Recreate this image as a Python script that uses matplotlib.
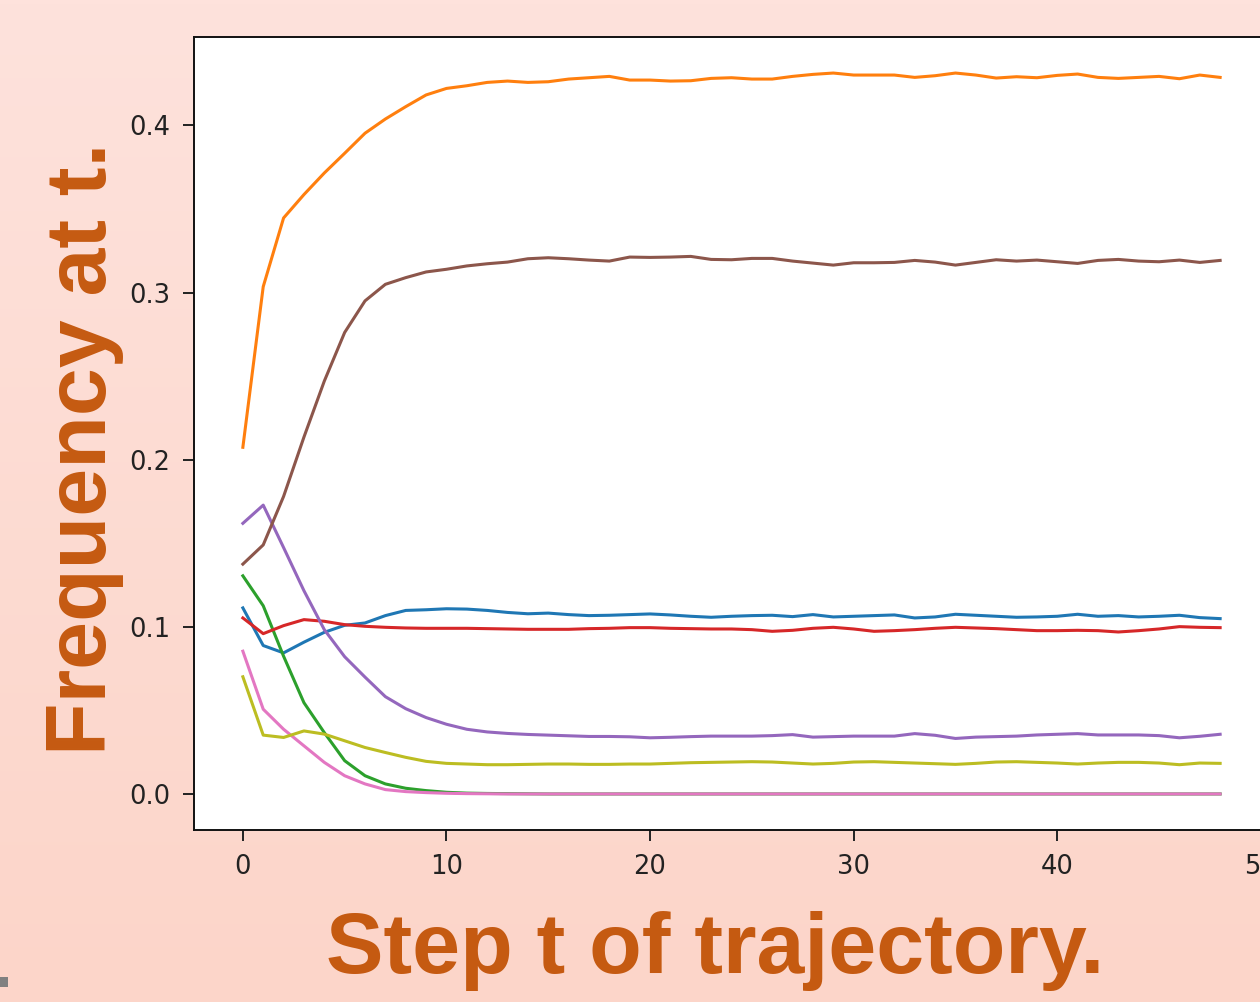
import numpy as np
import matplotlib
matplotlib.use("Agg")
import matplotlib.pyplot as plt
from matplotlib.patches import Rectangle

steps = list(range(49))

blue = [0.1113, 0.0888, 0.0844, 0.0908, 0.0967, 0.1009, 0.1023, 0.1067, 0.1098, 0.1102,
        0.1108, 0.1106, 0.1098, 0.1086, 0.1078, 0.1082, 0.1073, 0.1067, 0.1069, 0.1073,
        0.1077, 0.1071, 0.1063, 0.1057, 0.1063, 0.1067, 0.1069, 0.1061, 0.1073, 0.1059,
        0.1063, 0.1067, 0.1071, 0.1053, 0.1059, 0.1075, 0.1069, 0.1063, 0.1057, 0.1059,
        0.1063, 0.1075, 0.1063, 0.1067, 0.1059, 0.1063, 0.1069, 0.1055, 0.1049]
orange = [0.2074, 0.3035, 0.3446, 0.3586, 0.3715, 0.3833, 0.3953, 0.4038, 0.4112, 0.4182,
          0.4221, 0.4237, 0.4257, 0.4265, 0.4257, 0.4261, 0.4277, 0.4285, 0.4293, 0.4271,
          0.4271, 0.4265, 0.4267, 0.4281, 0.4285, 0.4277, 0.4277, 0.4293, 0.4305, 0.4313,
          0.4301, 0.4301, 0.4301, 0.4287, 0.4297, 0.4313, 0.4301, 0.4283, 0.4291, 0.4285,
          0.4299, 0.4307, 0.4287, 0.4281, 0.4287, 0.4293, 0.4279, 0.4301, 0.4287]
green = [0.1305, 0.1126, 0.0824, 0.0546, 0.0367, 0.0199, 0.0109, 0.0060, 0.0034, 0.0020,
         0.0010, 0.0005, 0.0003, 0.0002, 0.0001, 0.0, 0.0, 0.0, 0.0, 0.0,
         0.0, 0.0, 0.0, 0.0, 0.0, 0.0, 0.0, 0.0, 0.0, 0.0,
         0.0, 0.0, 0.0, 0.0, 0.0, 0.0, 0.0, 0.0, 0.0, 0.0,
         0.0, 0.0, 0.0, 0.0, 0.0, 0.0, 0.0, 0.0, 0.0]
red = [0.1053, 0.0959, 0.1007, 0.1043, 0.1033, 0.1013, 0.1003, 0.0997, 0.0993, 0.0991,
       0.0991, 0.0991, 0.0989, 0.0987, 0.0985, 0.0985, 0.0985, 0.0989, 0.0991, 0.0995,
       0.0995, 0.0991, 0.0989, 0.0987, 0.0987, 0.0983, 0.0973, 0.0979, 0.0991, 0.0997,
       0.0987, 0.0973, 0.0977, 0.0983, 0.0991, 0.0997, 0.0993, 0.0989, 0.0983, 0.0977,
       0.0977, 0.0979, 0.0977, 0.0969, 0.0977, 0.0987, 0.1001, 0.0997, 0.0995]
purple = [0.1619, 0.1728, 0.1474, 0.1216, 0.0983, 0.0821, 0.0699, 0.0582, 0.0510, 0.0457,
          0.0417, 0.0387, 0.0371, 0.0362, 0.0356, 0.0352, 0.0348, 0.0344, 0.0344, 0.0342,
          0.0336, 0.0339, 0.0343, 0.0346, 0.0346, 0.0346, 0.0349, 0.0355, 0.0340, 0.0343,
          0.0346, 0.0346, 0.0346, 0.0361, 0.0351, 0.0332, 0.0340, 0.0343, 0.0346, 0.0353,
          0.0357, 0.0361, 0.0353, 0.0353, 0.0353, 0.0349, 0.0336, 0.0345, 0.0357]
brown = [0.1375, 0.1490, 0.1780, 0.2135, 0.2470, 0.2761, 0.2950, 0.3049, 0.3089, 0.3123,
         0.3139, 0.3159, 0.3172, 0.3182, 0.3202, 0.3208, 0.3202, 0.3194, 0.3188, 0.3212,
         0.3210, 0.3212, 0.3216, 0.3198, 0.3196, 0.3204, 0.3204, 0.3188, 0.3176, 0.3164,
         0.3178, 0.3178, 0.3180, 0.3192, 0.3182, 0.3164, 0.3180, 0.3196, 0.3188, 0.3194,
         0.3184, 0.3174, 0.3192, 0.3198, 0.3188, 0.3184, 0.3194, 0.3180, 0.3192]
pink = [0.0854, 0.0507, 0.0387, 0.0288, 0.0189, 0.0109, 0.0060, 0.0026, 0.0014, 0.0008,
        0.0004, 0.0002, 0.0001, 0.0, 0.0, 0.0, 0.0, 0.0, 0.0, 0.0,
        0.0, 0.0, 0.0, 0.0, 0.0, 0.0, 0.0, 0.0, 0.0, 0.0,
        0.0, 0.0, 0.0, 0.0, 0.0, 0.0, 0.0, 0.0, 0.0, 0.0,
        0.0, 0.0, 0.0, 0.0, 0.0, 0.0, 0.0, 0.0, 0.0]
olive = [0.0701, 0.0352, 0.0338, 0.0377, 0.0358, 0.0318, 0.0278, 0.0248, 0.0219, 0.0195,
         0.0183, 0.0179, 0.0175, 0.0175, 0.0177, 0.0179, 0.0179, 0.0177, 0.0177, 0.0179,
         0.0179, 0.0183, 0.0187, 0.0189, 0.0191, 0.0193, 0.0191, 0.0185, 0.0179, 0.0183,
         0.0191, 0.0193, 0.0189, 0.0185, 0.0181, 0.0177, 0.0183, 0.0191, 0.0193, 0.0189,
         0.0185, 0.0179, 0.0185, 0.0189, 0.0189, 0.0185, 0.0175, 0.0185, 0.0183]

series = [blue, orange, green, red, purple, brown, pink, olive]
colors = ["#1f77b4", "#ff7f0e", "#2ca02c", "#d62728", "#9467bd", "#8c564b", "#e377c2", "#bcbd22"]

xlabel = "Step t of trajectory."
ylabel = "Frequency at t."
xticks = [0, 10, 20, 30, 40, 50]
yticks = [0.0, 0.1, 0.2, 0.3, 0.4]

W, H = 1260, 1002
fig = plt.figure(figsize=(W / 100, H / 100), dpi=100)

# background gradient
bg = fig.add_axes([0, 0, 1, 1], zorder=-10)
top = np.array([254, 226, 220]) / 255.0
bot = np.array([252, 213, 201]) / 255.0
tt = np.linspace(0, 1, 256)[:, None]
grad = top[None, :] * (1 - tt) + bot[None, :] * tt
bg.imshow(grad[:, None, :], aspect="auto", extent=[0, 1, 0, 1])
bg.set_axis_off()

left = 194 / W
right = 1269 / W
bottom = 1 - 830 / H
topy = 1 - 37 / H
ax = fig.add_axes([left, bottom, right - left, topy - bottom])
ax.set_facecolor("white")

for s, c in zip(series, colors):
    ax.plot(steps, s, color=c, lw=2.2)

ax.set_xticks(xticks)
ax.set_yticks(yticks)
ax.set_xticklabels([str(v) for v in xticks])
ax.set_yticklabels([f"{v:.1f}" for v in yticks])
ax.tick_params(labelsize=18.5, length=8, width=1.4, pad=9, colors="#222222")
for sp in ax.spines.values():
    sp.set_linewidth(1.4)
    sp.set_color("#111111")

lab_color = "#C55A11"
fig.text(715 / W, 1 - 973 / H, xlabel, ha="center", va="baseline",
         fontsize=62, fontweight="bold", family="Liberation Sans", color=lab_color)
fig.text(106.5 / W, 1 - 449 / H, ylabel, ha="center", va="baseline",
         rotation=90, rotation_mode="anchor",
         fontsize=62, fontweight="bold", family="Liberation Sans", color=lab_color)

fig.patches.append(Rectangle((0, 1 - 987 / H), 8 / W, 10 / H, transform=fig.transFigure,
                             facecolor="#808080", edgecolor="none", figure=fig))

fig.savefig("out.png", dpi=100)
